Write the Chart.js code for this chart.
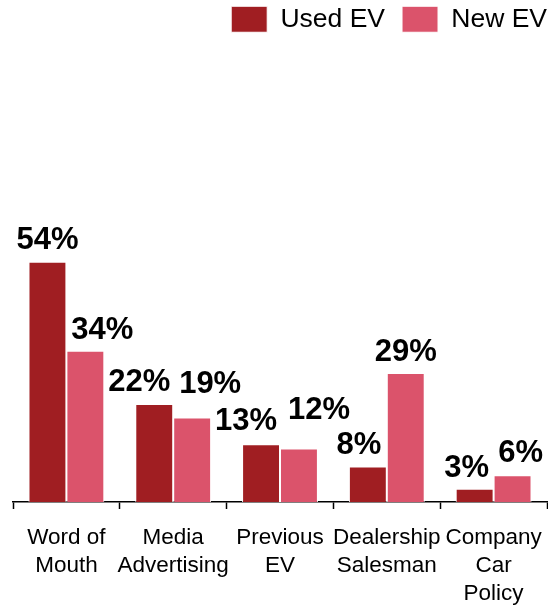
<!DOCTYPE html>
<html>
<head>
<meta charset="utf-8">
<script src="https://cdn.jsdelivr.net/npm/chart.js@4.4.1/dist/chart.umd.min.js"></script>
<style>
  html, body { margin: 0; padding: 0; background: #fff; }
  #wrap { width: 548px; height: 606px; }
</style>
</head>
<body>
<div id="wrap"><canvas id="evChart"></canvas></div>
<script>
// categories and shares (%) per buyer type
const categories = [
    ['Word of', 'Mouth'],
    ['Media', 'Advertising'],
    ['Previous', 'EV'],
    ['Dealership', 'Salesman'],
    ['Company', 'Car', 'Policy']
];
const usedEV = [54, 22, 13, 8, 3];
const newEV = [34, 19, 12, 29, 6];

// value labels: sideways nudge and lift above the bar top (px)
const labelNudge = [
    [0, -15, -15, -9, -8],
    [17, 18, 20, 0, 8]
];
const labelLift = [
    [13, 13, 14, 12, 12],
    [12, 24, 30, 12, 13]
];

const valueLabels = {
    id: 'valueLabels',
    afterDatasetsDraw(chart) {
        const ctx = chart.ctx;
        ctx.save();
        ctx.font = 'bold 31px "Liberation Sans", Arial, sans-serif';
        ctx.fillStyle = '#000';
        ctx.textAlign = 'center';
        ctx.textBaseline = 'alphabetic';
        chart.data.datasets.forEach(function (ds, d) {
            chart.getDatasetMeta(d).data.forEach(function (bar, i) {
                ctx.fillText(ds.data[i] + '%', bar.x + labelNudge[d][i], bar.y - labelLift[d][i]);
            });
        });
        ctx.restore();
    }
};

// legend sits tight in the top right corner, plot starts lower
const legendPlacement = {
    id: 'legendPlacement',
    beforeInit(chart) {
        const fit = chart.legend.fit;
        chart.legend.fit = function () {
            fit.bind(chart.legend)();
            this.height += 3.5;
        };
    },
    afterLayout(chart) {
        chart.legend.top -= 11;
        chart.legend.right += 17;
    }
};

new Chart(document.getElementById('evChart'), {
    type: 'bar',
    data: {
        labels: categories,
        datasets: [
            {
                label: 'Used EV',
                data: usedEV,
                backgroundColor: '#A01E22',
                borderColor: '#ffffff',
                borderWidth: 1
            },
            {
                label: 'New EV',
                data: newEV,
                backgroundColor: '#DB536B',
                borderColor: '#ffffff',
                borderWidth: 1
            }
        ]
    },
    options: {
        responsive: true,
        maintainAspectRatio: false,
        animation: false,
        layout: { padding: { left: 13, right: 1, top: 0, bottom: 0 } },
        datasets: {
            bar: { categoryPercentage: 0.71, barPercentage: 1.0 }
        },
        plugins: {
            legend: {
                position: 'top',
                align: 'end',
                labels: {
                    boxWidth: 36,
                    boxHeight: 26,
                    padding: 17,
                    color: '#000',
                    font: { family: '"Liberation Sans", Arial, sans-serif', size: 26.5 }
                }
            },
            tooltip: { enabled: false }
        },
        scales: {
            x: {
                afterFit(scale) {
                    scale.paddingLeft = 0;
                    scale.paddingRight = 0;
                    scale.height = 104;
                },
                grid: {
                    display: true,
                    drawOnChartArea: false,
                    drawTicks: true,
                    tickLength: 7,
                    tickColor: '#000',
                    tickWidth: 1.5,
                    offset: true
                },
                border: { display: true, color: '#000', width: 1.5 },
                ticks: {
                    color: '#000',
                    padding: 15,
                    maxRotation: 0,
                    autoSkip: false,
                    font: { family: '"Liberation Sans", Arial, sans-serif', size: 22.5, lineHeight: 1.245 }
                }
            },
            y: {
                display: false,
                min: 0,
                max: 100
            }
        }
    },
    plugins: [valueLabels, legendPlacement]
});
</script>
</body>
</html>
